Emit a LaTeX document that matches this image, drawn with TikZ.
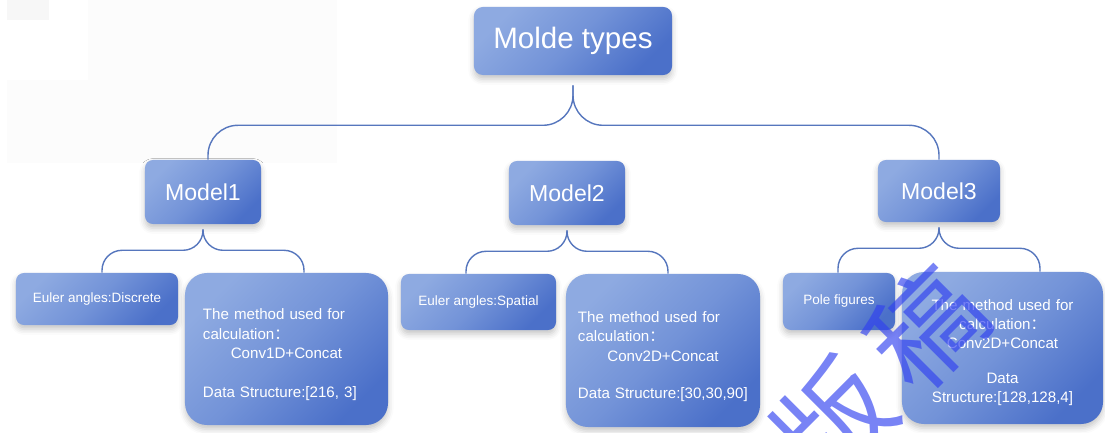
\documentclass[tikz,border=0pt]{standalone}
\usepackage{fontspec}
\setmainfont{Liberation Sans}
\newfontfamily\cjk{Noto Sans CJK SC}
\usetikzlibrary{positioning,calc,shadows.blur}

\definecolor{boxlight}{HTML}{8EAAE1}
\definecolor{boxmid}{HTML}{7393D8}
\definecolor{boxdark}{HTML}{4B70C9}
\definecolor{linkblue}{HTML}{5676BD}
\definecolor{markblue}{HTML}{3040F0}

\begin{document}
\begin{tikzpicture}[x=0.025cm,y=-0.025cm,
        % 结点样式:圆角矩形,左上浅蓝到右下深蓝的渐变,下方带模糊阴影
        BaseNode/.style={rectangle, text=white, inner sep=0pt,
            top color=boxlight, bottom color=boxdark, middle color=boxmid, shading angle=45,
            blur shadow={shadow xshift=0pt, shadow yshift=-3pt, shadow blur radius=4pt, shadow opacity=22}},
        TopNode/.style={BaseNode, rounded corners=0.22cm, minimum width=4.95cm, minimum height=1.7cm, font=\fontsize{21}{25}\selectfont},
        ModelNode/.style={BaseNode, rounded corners=0.2cm, minimum width=2.9cm, minimum height=1.6cm, font=\fontsize{16.4}{20}\selectfont},
        LeafNode/.style={BaseNode, rounded corners=0.2cm, minimum height=1.4cm, font=\fontsize{9.6}{12}\selectfont},
        MethodNode/.style={BaseNode, rounded corners=0.55cm, minimum height=3.8cm, font=\fontsize{10.75}{13.8}\selectfont},
        link/.style={draw=linkblue, line width=1pt}]

        % 画布大小,坐标单位为像素
        \useasboundingbox (0,0) rectangle (1105,433);

        % 左上角的浅灰底色
        \fill[black!1] (88,0) rectangle (337,163);
        \fill[black!1] (7,80) rectangle (88,163);
        \fill[black!3] (7,0) rectangle (49,20);

        % 顶层结点
        \node[TopNode] (top) at (573,41) {Molde types};

        % 第二层:三个模型
        \node[ModelNode] (mod1) at (203,192) {Model1};
        \node[ModelNode] (mod2) at (567,193) {Model2};
        \node[ModelNode, minimum width=3.05cm, minimum height=1.55cm] (mod3) at (939,191) {Model3};

        % 第三层:输入类型
        \node[LeafNode, minimum width=4.05cm, minimum height=1.3cm] (e1) at (97,299) {Euler angles:Discrete};
        \node[LeafNode, minimum width=3.875cm] (e2) at (478.5,302) {Euler angles:Spatial};
        \node[LeafNode, minimum width=2.8cm, minimum height=1.425cm] (p3) at (839,301.5) {Pole figures};

        % 第三层:计算方法和数据结构
        \node[MethodNode, minimum width=5.075cm, text width=4.175cm, align=left] (m1) at (286.5,349)
            {\rule{0pt}{16pt}The method used for\\calculation{\cjk ：}\par\centering Conv1D+Concat\\[13.8pt]Data Structure:[216, 3]};
        \node[MethodNode, minimum width=4.85cm, minimum height=3.825cm, text width=4.25cm, align=left] (m2) at (663,350.5)
            {\rule{0pt}{16pt}The method used for\\calculation{\cjk ：}\par\centering Conv2D+Concat\\[12.5pt]Data Structure:[30,30,90]};
        \node[MethodNode, minimum width=5.025cm, text width=3.9cm, align=center] (m3) at (1002.5,348)
            {\rule{0pt}{14pt}The method used for\\calculation{\cjk ：}\\Conv2D+Concat\\[10.5pt]Data\\Structure:[128,128,4]};

        % 顶层到模型的大括号连线
        \coordinate (t0) at ($(top.south)+(0,10)$);
        \coordinate (tbar) at ($(top.south)+(0,50)$);
        \draw[link, rounded corners=0.75cm] (t0) -- (tbar) -| ([xshift=0.125cm]mod1.north);
        \draw[link, rounded corners=0.75cm] (t0) -- (tbar) -| (mod3.north);

        % 模型到下一层的小括号连线
        \foreach \p/\l/\r in {mod1/e1/m1, mod2/e2/m2, mod3/p3/m3}{
            \draw[link, rounded corners=0.5cm] ($(\p.south)+(0,5)$) -- ($(\p.south)+(0,26)$) -| ($(\l.north -| \p.south)+(-101,0)$);
            \draw[link, rounded corners=0.5cm] ($(\p.south)+(0,5)$) -- ($(\p.south)+(0,26)$) -| ($(\r.north -| \p.south)+(101,0)$);
        }

        % 水印
        \node[rotate=45, inner sep=0pt, text=markblue, text opacity=0.65, font=\cjk\fontsize{80}{80}\selectfont] (mark) at (880,374)
            {版\hspace{13pt}稿};
    \end{tikzpicture}
\end{document}
